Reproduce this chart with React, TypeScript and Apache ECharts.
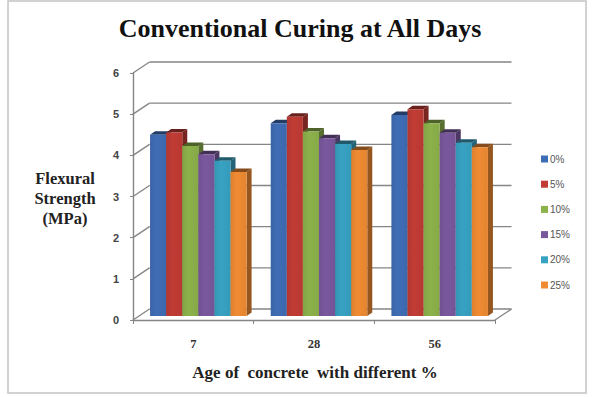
import React, { useEffect, useRef } from "react";
import * as echarts from "echarts";

// Age of concrete (days)
const categories = ["7", "28", "56"];
// Replacement percentages shown in the legend
const seriesNames = ["0%", "5%", "10%", "15%", "20%", "25%"];
// Flexural strength (MPa) per replacement level, one value per age
const s0 = [4.4, 4.68, 4.88];
const s5 = [4.46, 4.84, 5.02];
const s10 = [4.13, 4.48, 4.68];
const s15 = [3.93, 4.32, 4.45];
const s20 = [3.77, 4.18, 4.21];
const s25 = [3.5, 4.03, 4.1];
const seriesValues = [s0, s5, s10, s15, s20, s25];
// Value axis ticks
const yTicks = [0, 1, 2, 3, 4, 5, 6];

const colors = ["#3f6db5", "#c13c35", "#8cb24b", "#7a589e", "#38a2c3", "#f08b33"];

// pseudo-3D geometry (pixels)
const WALL_DX = 16.5;
const WALL_DY = -11;
const BAR_OX = 5;
const BAR_OY = -4;
const BAR_DX = 5;
const BAR_DY = -3.5;
const GROUP_FRAC = 0.8;

function shade(hex: string, f: number): string {
  const n = parseInt(hex.slice(1), 16);
  const r = Math.round(((n >> 16) & 255) * f);
  const g = Math.round(((n >> 8) & 255) * f);
  const b = Math.round((n & 255) * f);
  return `rgb(${r},${g},${b})`;
}

export default function App() {
  const ref = useRef<HTMLDivElement>(null);

  useEffect(() => {
    if (!ref.current) return;
    const chart = echarts.init(ref.current, null, { renderer: "svg" });
    const nCat = categories.length;
    const nSer = seriesNames.length;

    const wallSeries = {
      type: "custom",
      name: "wall",
      silent: true,
      z: 1,
      encode: { x: 0, y: 1 },
      data: yTicks.map((v) => [0, v]),
      renderItem: (params: any, api: any) => {
        const v = api.value(1);
        const p = api.coord([0, v]);
        const band = api.size([1, 0])[0];
        const left = p[0] - band / 2;
        const right = left + band * nCat;
        const y = p[1];
        const lineStyle = { stroke: "#858585", lineWidth: 1.4 };
        const children: any[] = [
          {
            type: "line",
            shape: { x1: left, y1: y, x2: left + WALL_DX, y2: y + WALL_DY },
            style: lineStyle,
          },
          {
            type: "line",
            shape: { x1: left + WALL_DX, y1: y + WALL_DY, x2: right + WALL_DX, y2: y + WALL_DY },
            style: lineStyle,
          },
        ];
        if (v === 0) {
          children.push({
            type: "line",
            shape: { x1: right, y1: y, x2: right + WALL_DX, y2: y + WALL_DY },
            style: lineStyle,
          });
        }
        return { type: "group", children };
      },
    };

    const barSeries = seriesNames.map((name, si) => ({
      type: "custom",
      name,
      z: 2,
      itemStyle: { color: colors[si] },
      encode: { x: 0, y: 1 },
      data: seriesValues[si].map((v, ci) => [ci, v]),
      renderItem: (params: any, api: any) => {
        const ci = api.value(0);
        const v = api.value(1);
        const base = api.coord([ci, 0]);
        const top = api.coord([ci, v]);
        const band = api.size([1, 0])[0];
        const bw = (band * GROUP_FRAC) / nSer;
        const x0 = base[0] - (band * GROUP_FRAC) / 2 + si * bw + BAR_OX;
        const x1 = x0 + bw;
        const yb = base[1] + BAR_OY;
        const yt = top[1] + BAR_OY;
        const c = colors[si];
        return {
          type: "group",
          children: [
            {
              type: "polygon",
              shape: {
                points: [
                  [x1, yt],
                  [x1 + BAR_DX, yt + BAR_DY],
                  [x1 + BAR_DX, yb + BAR_DY],
                  [x1, yb],
                ],
              },
              style: { fill: shade(c, 0.62) },
            },
            {
              type: "polygon",
              shape: {
                points: [
                  [x0, yt],
                  [x0 + BAR_DX, yt + BAR_DY],
                  [x1 + BAR_DX, yt + BAR_DY],
                  [x1, yt],
                ],
              },
              style: { fill: shade(c, 0.55) },
            },
            {
              type: "rect",
              shape: { x: x0, y: yt, width: bw, height: yb - yt },
              style: {
                fill: new echarts.graphic.LinearGradient(0, 0, 1, 0, [
                  { offset: 0, color: shade(c, 0.92) },
                  { offset: 0.4, color: c },
                  { offset: 1, color: shade(c, 0.95) },
                ]),
              },
            },
          ],
        };
      },
    }));

    chart.setOption({
      animation: false,
      backgroundColor: "#ffffff",
      color: colors,
      grid: { left: 133, right: 97, top: 73, bottom: 77, containLabel: false },
      xAxis: {
        type: "category",
        data: categories,
        boundaryGap: true,
        axisLine: { show: true, lineStyle: { color: "#858585", width: 1.4 } },
        axisTick: { show: true, length: 4, lineStyle: { color: "#858585" } },
        axisLabel: {
          margin: 17,
          fontFamily: "Liberation Serif",
          fontWeight: "bold",
          fontSize: 12.5,
          color: "#333",
        },
        splitLine: { show: false },
      },
      yAxis: {
        type: "value",
        min: 0,
        max: 6,
        interval: 1,
        axisLine: { show: true, lineStyle: { color: "#858585", width: 1.4 } },
        axisTick: { show: true, length: 3, lineStyle: { color: "#858585" } },
        axisLabel: {
          margin: 14,
          fontFamily: "Liberation Sans",
          fontWeight: "bold",
          fontSize: 11,
          color: "#444",
        },
        splitLine: { show: false },
      },
      legend: {
        data: seriesNames,
        orient: "vertical",
        left: 541,
        top: 154,
        itemWidth: 7,
        itemHeight: 7,
        itemGap: 15.2,
        padding: 0,
        icon: "rect",
        textStyle: { fontFamily: "Liberation Sans", fontSize: 10, color: "#555", padding: [0, 0, 0, -3] },
      },
      graphic: [
        {
          type: "rect",
          shape: { x: 8, y: 1, width: 578, height: 392 },
          style: { fill: "none", stroke: "#c4c4c4", lineWidth: 1.5 },
          silent: true,
        },
        {
          type: "text",
          x: 300,
          y: 28,
          style: {
            text: "Conventional Curing at All Days",
            align: "center",
            verticalAlign: "middle",
            fontFamily: "Liberation Serif",
            fontWeight: "bold",
            fontSize: 26,
            fill: "#111",
          },
        },
        {
          type: "text",
          x: 65,
          y: 198,
          style: {
            text: "Flexural\nStrength\n(MPa)",
            align: "center",
            verticalAlign: "middle",
            lineHeight: 20,
            fontFamily: "Liberation Serif",
            fontWeight: "bold",
            fontSize: 16.5,
            fill: "#222",
          },
        },
        {
          type: "text",
          x: 315,
          y: 372,
          style: {
            text: "Age of  concrete  with different %",
            align: "center",
            verticalAlign: "middle",
            fontFamily: "Liberation Serif",
            fontWeight: "bold",
            fontSize: 17,
            fill: "#222",
          },
        },
      ],
      series: [wallSeries, ...barSeries],
    });

    return () => chart.dispose();
  }, []);

  return (
    <div
      ref={ref}
      style={{ position: "absolute", left: 0, top: 0, width: 592, height: 397 }}
    />
  );
}
